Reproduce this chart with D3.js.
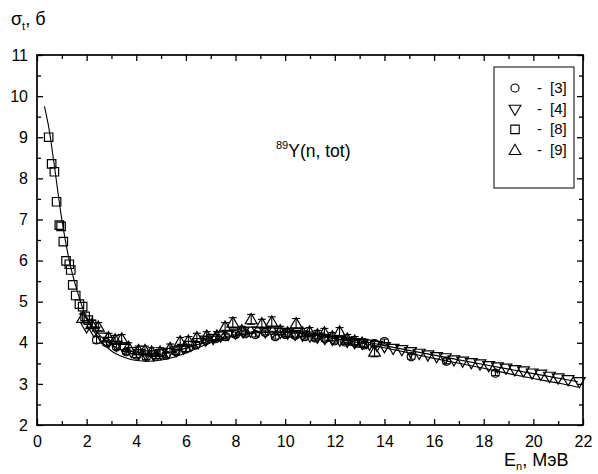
<!DOCTYPE html>
<html>
<head>
<meta charset="utf-8">
<script src="https://cdn.jsdelivr.net/npm/d3@7"></script>
<style>
  body { margin: 0; background: #fff; }
  text { font-family: "Liberation Sans", Arial, sans-serif; }
</style>
</head>
<body>
<svg id="chart"></svg>
<script>
// ---- data ----
// fitted curves
const curveAE = [0.3,0.5,0.7,1.0,1.3,1.6,2.0,2.5,3.0,3.5,4.0,4.5,5.0,5.5,6.0,6.5,7.0,7.5,8.0,8.5,9.0,9.5,10,11,12,13,14,15,16,17,18,19,20,21,21.8];
const curveAS = [9.75,9.15,8.3,7.0,6.0,5.3,4.6,4.1,3.8,3.65,3.57,3.55,3.58,3.65,3.75,3.88,4.0,4.1,4.17,4.22,4.25,4.26,4.25,4.2,4.1,4.0,3.88,3.75,3.62,3.5,3.38,3.25,3.13,3.02,2.92];
const curveBE = [2.0,2.5,3.0,3.5,4.0,4.5,5.0,5.5,6.0,7.0,8.0,9.0,10,11,12,13,14,16,18,20,21.8];
const curveBS = [4.62,4.2,3.95,3.8,3.72,3.7,3.72,3.78,3.87,4.05,4.2,4.28,4.28,4.23,4.14,4.05,3.93,3.7,3.47,3.25,3.05];

// [3] circles
const circE = [2.4,2.8,3.2,3.6,4.0,4.4,4.8,5.2,5.6,6.0,6.4,6.8,7.2,7.6,8.0,8.4,8.8,9.2,9.6,10.0,10.4,10.8,11.2,11.6,12.0,12.4,12.8,13.2,13.6,14.0,15.08,16.5,18.47];
const circS = [4.07,4.0,3.9,3.78,3.7,3.65,3.68,3.7,3.78,3.85,3.95,4.05,4.1,4.15,4.2,4.22,4.2,4.25,4.15,4.2,4.18,4.15,4.12,4.1,4.05,4.02,4.0,3.95,3.98,4.03,3.66,3.55,3.26];
const circErr = [0.08,0.06,0.06,0.06,0.06,0.06,0.06,0.06,0.06,0.06,0.06,0.06,0.06,0.06,0.06,0.06,0.06,0.06,0.06,0.06,0.06,0.06,0.06,0.06,0.06,0.06,0.06,0.06,0.06,0.06,0.06,0.06,0.06];

// [4] down triangles
const tdnE = [2.0,2.3,2.6,2.9,3.2,3.5,3.8,4.1,4.4,4.7,5.0,5.3,5.6,5.9,6.2,6.5,6.8,7.1,7.4,7.7,8.0,8.3,8.6,8.9,9.2,9.5,9.8,10.1,10.4,10.7,11.0,11.3,11.6,11.9,12.2,12.5,12.8,13.1,13.4,13.7,14.0,14.35,14.7,15.05,15.4,15.75,16.1,16.45,16.8,17.15,17.5,17.85,18.2,18.55,18.9,19.25,19.6,19.95,20.3,20.65,21.0,21.4,21.85];
const tdnS = [4.4,4.3,4.15,4.05,3.95,3.88,3.8,3.75,3.72,3.72,3.75,3.78,3.82,3.88,3.95,4.02,4.08,4.12,4.18,4.22,4.25,4.28,4.3,4.3,4.28,4.28,4.27,4.25,4.22,4.2,4.18,4.15,4.12,4.1,4.08,4.05,4.02,4.0,3.98,3.95,3.92,3.88,3.85,3.8,3.76,3.72,3.68,3.65,3.6,3.57,3.53,3.5,3.46,3.43,3.4,3.36,3.33,3.28,3.25,3.2,3.16,3.12,3.07];

// [8] squares
const sqE = [0.47,0.59,0.70,0.79,0.90,0.97,1.06,1.17,1.30,1.36,1.44,1.56,1.71,1.84,1.94,2.07,2.2];
const sqS = [9.0,8.35,8.16,7.43,6.86,6.83,6.46,5.99,5.91,5.77,5.41,5.15,4.94,4.88,4.64,4.55,4.45];

// [9] up triangles with error bars
const tupE = [1.84,2.2,2.47,2.88,3.15,3.41,3.68,4.09,4.35,4.62,4.96,5.36,5.77,6.1,6.44,6.84,7.25,7.58,7.89,8.25,8.63,9.06,9.46,9.8,10.1,10.44,10.7,10.98,11.3,11.58,11.9,12.19,12.5,12.8,13.1,13.6];
const tupS = [4.6,4.45,4.39,4.13,4.08,4.1,3.9,3.82,3.82,3.78,3.78,3.87,4.03,4.05,4.13,4.17,4.17,4.39,4.49,4.3,4.57,4.47,4.51,4.3,4.25,4.47,4.25,4.27,4.2,4.25,4.15,4.27,4.1,4.05,4.0,3.78];
const tupErr = [0.1,0.1,0.1,0.1,0.1,0.1,0.1,0.1,0.1,0.1,0.1,0.1,0.1,0.1,0.1,0.1,0.1,0.1,0.12,0.1,0.12,0.1,0.12,0.1,0.1,0.12,0.1,0.1,0.1,0.1,0.1,0.1,0.1,0.1,0.1,0.12];

const xMajor = [0,2,4,6,8,10,12,14,16,18,20,22];
const xMinor = [1,3,5,7,9,11,13,15,17,19,21];
const yMajor = [2,3,4,5,6,7,8,9,10,11];
const yMinor = [2.5,3.5,4.5,5.5,6.5,7.5,8.5,9.5,10.5];

const legendRefs = ['[3]','[4]','[8]','[9]'];

// ---- layout ----
const W = 598, H = 474;
const margin = { top: 55, right: 15, bottom: 49, left: 37 };
const innerW = W - margin.left - margin.right;
const innerH = H - margin.top - margin.bottom;

const svg = d3.select('#chart').attr('width', W).attr('height', H);
const g = svg.append('g').attr('transform', `translate(${margin.left},${margin.top})`);

const x = d3.scaleLinear().domain([0, 22]).range([0, innerW]);
const y = d3.scaleLinear().domain([2, 11]).range([innerH, 0]);

function styleAxis(sel, stroke) {
  sel.select('.domain').remove();
  sel.selectAll('.tick line').attr('stroke', '#000').attr('stroke-width', stroke);
  sel.selectAll('.tick text').attr('font-size', 16).attr('fill', '#000')
    .attr('font-family', '"Liberation Sans", Arial, sans-serif');
}

// bottom
g.append('g').attr('transform', `translate(0,${innerH})`)
  .call(d3.axisBottom(x).tickValues(xMajor).tickFormat(d3.format('d')).tickSizeInner(-6).tickSizeOuter(0).tickPadding(11))
  .call(s => styleAxis(s, 1.3));
g.append('g').attr('transform', `translate(0,${innerH})`)
  .call(d3.axisBottom(x).tickValues(xMinor).tickFormat('').tickSizeInner(-4).tickSizeOuter(0))
  .call(s => styleAxis(s, 1.3));
// top
g.append('g')
  .call(d3.axisTop(x).tickValues(xMajor).tickFormat('').tickSizeInner(-6).tickSizeOuter(0))
  .call(s => styleAxis(s, 1.3));
g.append('g')
  .call(d3.axisTop(x).tickValues(xMinor).tickFormat('').tickSizeInner(-4).tickSizeOuter(0))
  .call(s => styleAxis(s, 1.3));
// left
g.append('g')
  .call(d3.axisLeft(y).tickValues(yMajor).tickFormat(d3.format('d')).tickSizeInner(-6).tickSizeOuter(0).tickPadding(9))
  .call(s => styleAxis(s, 1.3));
g.append('g')
  .call(d3.axisLeft(y).tickValues(yMinor).tickFormat('').tickSizeInner(-4).tickSizeOuter(0))
  .call(s => styleAxis(s, 1.3));
// right
g.append('g').attr('transform', `translate(${innerW},0)`)
  .call(d3.axisRight(y).tickValues(yMajor).tickFormat('').tickSizeInner(-6).tickSizeOuter(0))
  .call(s => styleAxis(s, 1.3));
g.append('g').attr('transform', `translate(${innerW},0)`)
  .call(d3.axisRight(y).tickValues(yMinor).tickFormat('').tickSizeInner(-4).tickSizeOuter(0))
  .call(s => styleAxis(s, 1.3));

// frame
g.append('rect')
  .attr('width', innerW).attr('height', innerH)
  .attr('fill', 'none').attr('stroke', '#000').attr('stroke-width', 1.7);

// curves
const line = d3.line().x(d => x(d[0])).y(d => y(d[1])).curve(d3.curveMonotoneX);
[[curveAE, curveAS], [curveBE, curveBS]].forEach(([es, ss]) => {
  g.append('path')
    .datum(es.map((e, i) => [e, ss[i]]))
    .attr('d', line)
    .attr('fill', 'none').attr('stroke', '#000').attr('stroke-width', 1.1);
});

// symbols
const sym = {
  circle: d3.symbol().type(d3.symbolCircle).size(52),
  square: d3.symbol().type(d3.symbolSquare).size(72),
  tri: d3.symbol().type(d3.symbolTriangle).size(60)
};

function errorBars(es, ss, errs) {
  const cap = 4;
  const eg = g.append('g').attr('stroke', '#000').attr('stroke-width', 1.1);
  es.forEach((e, i) => {
    const cx = x(e), y1 = y(ss[i] + errs[i]), y0 = y(ss[i] - errs[i]);
    eg.append('line').attr('x1', cx).attr('x2', cx).attr('y1', y0).attr('y2', y1);
    eg.append('line').attr('x1', cx - cap).attr('x2', cx + cap).attr('y1', y1).attr('y2', y1);
    eg.append('line').attr('x1', cx - cap).attr('x2', cx + cap).attr('y1', y0).attr('y2', y0);
  });
}

function drawSeries(es, ss, path, rot, dy) {
  g.append('g').selectAll('path')
    .data(es.map((e, i) => [e, ss[i]]))
    .join('path')
    .attr('d', path)
    .attr('transform', d => `translate(${x(d[0])},${y(d[1]) + (dy || 0)}) rotate(${rot || 0})`)
    .attr('fill', 'none').attr('stroke', '#000').attr('stroke-width', 1.2);
}

errorBars(circE, circS, circErr);
drawSeries(circE, circS, sym.circle());
drawSeries(tdnE, tdnS, sym.tri(), 180, 0);
drawSeries(sqE, sqS, sym.square());
errorBars(tupE, tupS, tupErr);
drawSeries(tupE, tupS, sym.tri(), 0, 1);

// legend
const lg = svg.append('g').attr('transform', 'translate(494,67)');
lg.append('rect').attr('width', 80).attr('height', 121)
  .attr('fill', '#fff').attr('stroke', '#000').attr('stroke-width', 1);
const legendSyms = [[sym.circle, 0, 0], [sym.tri, 180, 0], [sym.square, 0, 0], [sym.tri, 0, 1]];
legendRefs.forEach((r, i) => {
  const yy = 21 + i * 20.7;
  lg.append('path').attr('d', legendSyms[i][0]())
    .attr('transform', `translate(21,${yy + legendSyms[i][2]}) rotate(${legendSyms[i][1]})`)
    .attr('fill', 'none').attr('stroke', '#000').attr('stroke-width', 1.1);
  lg.append('text').attr('x', 43).attr('y', yy + 5).attr('font-size', 15).text('-');
  lg.append('text').attr('x', 56).attr('y', yy + 5).attr('font-size', 15).text(r);
});

// title
const title = svg.append('text').attr('x', 276).attr('y', 157).attr('font-size', 17.5);
title.append('tspan').attr('font-size', 11).attr('dy', -8).text('89');
title.append('tspan').attr('dy', 8).text('Y(n, tot)');

// axis labels
const yl = svg.append('text').attr('x', 11).attr('y', 25).attr('font-size', 18);
yl.append('tspan').text('σ');
yl.append('tspan').attr('font-size', 11).attr('dy', 5).text('t');
yl.append('tspan').attr('dy', -5).text(', б');

const xl = svg.append('text').attr('x', 504).attr('y', 466).attr('font-size', 18);
xl.append('tspan').text('E');
xl.append('tspan').attr('font-size', 11).attr('dy', 4).text('n');
xl.append('tspan').attr('dy', -4).text(', МэВ');
</script>
</body>
</html>
